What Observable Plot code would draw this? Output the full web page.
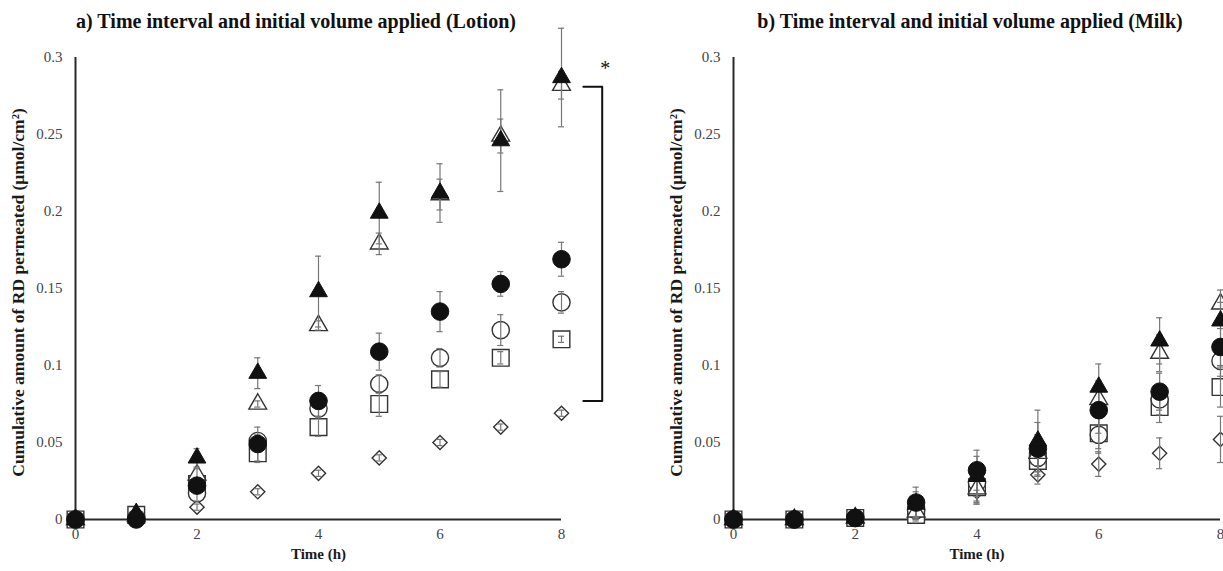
<!DOCTYPE html>
<html><head><meta charset="utf-8">
<script src="https://cdn.jsdelivr.net/npm/d3@7"></script>
<script src="https://cdn.jsdelivr.net/npm/@observablehq/plot@0.6"></script>
<style>
html,body{margin:0;padding:0;background:#fff;overflow:hidden;width:1223px;height:571px;}
#root{position:relative;width:1223px;height:571px;overflow:hidden;}
.title{position:absolute;top:10px;font-family:"Liberation Serif",serif;font-weight:bold;font-size:20px;color:#111;white-space:nowrap;transform:translateX(-50%);}
.panel{position:absolute;top:35px;}
</style></head><body><div id="root"></div>
<script>
// ---------- data ----------
const times = [0, 1, 2, 3, 4, 5, 6, 7, 8];
const xTicks = [0, 2, 4, 6, 8];
const yTicks = [0, 0.05, 0.1, 0.15, 0.2, 0.25, 0.3];
const yTickLabels = ["0", "0.05", "0.1", "0.15", "0.2", "0.25", "0.3"];
const titleA = "a) Time interval and initial volume applied (Lotion)";
const titleB = "b) Time interval and initial volume applied (Milk)";
const xLabel = "Time (h)";
const yLabel = "Cumulative amount of RD permeated (μmol/cm²)";
const seriesNames = ["openDiamond", "openSquare", "openCircle", "openTriangle", "filledCircle", "filledTriangle"];

// Lotion (panel a)
const lotionFilledTriangle    = [0, 0.004, 0.040, 0.095, 0.148, 0.199, 0.212, 0.246, 0.287];
const lotionFilledTriangleErr = [0, 0.002, 0.006, 0.010, 0.023, 0.020, 0.019, 0.033, 0.032];
const lotionOpenTriangle      = [0, 0.002, 0.029, 0.075, 0.126, 0.179, 0.211, 0.249, 0.282];
const lotionOpenTriangleErr   = [0, 0.001, 0.004, 0.002, 0.003, 0.007, 0.010, 0.011, 0.009];
const lotionFilledCircle      = [0, 0.000, 0.022, 0.049, 0.077, 0.109, 0.135, 0.153, 0.169];
const lotionFilledCircleErr   = [0, 0.001, 0.004, 0.011, 0.010, 0.012, 0.013, 0.008, 0.011];
const lotionOpenCircle        = [0, 0.001, 0.017, 0.051, 0.072, 0.088, 0.105, 0.123, 0.141];
const lotionOpenCircleErr     = [0, 0.001, 0.005, 0.004, 0.005, 0.006, 0.006, 0.010, 0.007];
const lotionOpenSquare        = [0, 0.003, 0.023, 0.043, 0.060, 0.075, 0.091, 0.105, 0.117];
const lotionOpenSquareErr     = [0, 0.001, 0.003, 0.006, 0.006, 0.008, 0.005, 0.004, 0.002];
const lotionOpenDiamond       = [0, 0.001, 0.008, 0.018, 0.030, 0.040, 0.050, 0.060, 0.069];
const lotionOpenDiamondErr    = [0, 0.001, 0.002, 0.002, 0.002, 0.002, 0.002, 0.002, 0.002];

// Milk (panel b)
const milkFilledTriangle    = [0, 0, 0.001, 0.010, 0.028, 0.051, 0.086, 0.116, 0.129];
const milkFilledTriangleErr = [0, 0, 0.001, 0.008, 0.013, 0.020, 0.015, 0.015, 0.012];
const milkOpenTriangle      = [0, 0, 0.001, 0.005, 0.020, 0.043, 0.078, 0.108, 0.140];
const milkOpenTriangleErr   = [0, 0, 0.001, 0.005, 0.010, 0.012, 0.012, 0.012, 0.009];
const milkFilledCircle      = [0, 0, 0.001, 0.011, 0.032, 0.046, 0.071, 0.083, 0.112];
const milkFilledCircleErr   = [0, 0, 0.001, 0.010, 0.013, 0.017, 0.015, 0.012, 0.012];
const milkOpenCircle        = [0, 0, 0.001, 0.006, 0.024, 0.040, 0.055, 0.078, 0.103];
const milkOpenCircleErr     = [0, 0, 0.001, 0.006, 0.012, 0.012, 0.012, 0.010, 0.010];
const milkOpenSquare        = [0, 0, 0.001, 0.003, 0.021, 0.038, 0.056, 0.073, 0.086];
const milkOpenSquareErr     = [0, 0, 0.001, 0.004, 0.010, 0.010, 0.010, 0.010, 0.013];
const milkOpenDiamond       = [0, 0, 0.001, 0.005, 0.018, 0.029, 0.036, 0.043, 0.052];
const milkOpenDiamondErr    = [0, 0, 0.001, 0.004, 0.008, 0.006, 0.008, 0.010, 0.015];

// significance bracket (panel a), in data units
const bracketX = [8.36, 8.67, 8.67, 8.36];
const bracketY = [0.281, 0.281, 0.077, 0.077];
const starX = [8.72];
const starY = [0.293];
const starText = ["*"];

// ---------- styles ----------
const styleOf = {
  filledTriangle: {symbol: "triangle", r: 6.6, fill: "#111", stroke: "#111", strokeWidth: 1},
  openTriangle:   {symbol: "triangle", r: 6.6, fill: "#fff", stroke: "#333", strokeWidth: 1.4},
  filledCircle:   {symbol: "circle",   r: 8.8, fill: "#111", stroke: "#111", strokeWidth: 1},
  openCircle:     {symbol: "circle",   r: 8.6, fill: "#fff", stroke: "#333", strokeWidth: 1.4},
  openSquare:     {symbol: "square",   r: 9.4, fill: "#fff", stroke: "#333", strokeWidth: 1.4},
  openDiamond:    {symbol: "diamond2", r: 6.4, fill: "#fff", stroke: "#333", strokeWidth: 1.4}
};

function buildRows(vals, errs) {
  const rows = [];
  for (const s of seriesNames) {
    const v = vals[s], e = errs[s];
    times.forEach((t, i) => rows.push({series: s, t, v: v[i], e: e[i]}));
  }
  return rows;
}

function panel(rows, extras, svgWidth, marginLeft, marginRight) {
  const openS = seriesNames.filter(s => s.startsWith("open"));
  const filledS = seriesNames.filter(s => s.startsWith("filled"));
  const errRows = rows.filter(d => d.e > 0);
  const capW = 0.05;
  const marks = [
    Plot.ruleY([0], {stroke: "#2a2a2a", strokeWidth: 2}),
    Plot.ruleX([0], {y1: 0, y2: 0.3, stroke: "#2a2a2a", strokeWidth: 2}),
    Plot.axisX(xTicks, {tickSize: 0, tickPadding: 9, label: null, fontSize: 15, fill: "#444", tickFormat: d => String(d)}),
    Plot.axisY(yTicks, {tickSize: 0, tickPadding: 13, label: null, fontSize: 15, fill: "#444", tickFormat: d => yTickLabels[yTicks.indexOf(d)]}),
    Plot.text([xLabel], {text: d => d, frameAnchor: "bottom", dy: 39, fontWeight: "bold", fontSize: 15, fill: "#1a1a1a"}),
    Plot.text([yLabel], {text: d => d, frameAnchor: "left", textAnchor: "middle", dx: -57, dy: 4, rotate: -90, fontWeight: "bold", fontSize: 17.5, fill: "#1a1a1a"}),
    ...openS.map(s => Plot.dot(rows.filter(d => d.series === s), {x: "t", y: "v", ...styleOf[s]})),
    Plot.ruleX(errRows, {x: "t", y1: d => d.v - d.e, y2: d => d.v + d.e, stroke: "#777", strokeWidth: 1.2}),
    Plot.ruleY(errRows, {y: d => d.v + d.e, x1: d => d.t - capW, x2: d => d.t + capW, stroke: "#777", strokeWidth: 1.2}),
    Plot.ruleY(errRows, {y: d => d.v - d.e, x1: d => d.t - capW, x2: d => d.t + capW, stroke: "#777", strokeWidth: 1.2}),
    ...filledS.map(s => Plot.dot(rows.filter(d => d.series === s), {x: "t", y: "v", ...styleOf[s]})),
    ...extras
  ];
  return Plot.plot({
    width: svgWidth, height: 534,
    marginLeft, marginRight, marginTop: 22, marginBottom: 50,
    x: {domain: [0, 8]},
    y: {domain: [0, 0.3]},
    style: {fontFamily: "Liberation Serif, serif", fontSize: "15px", background: "transparent", overflow: "visible"},
    marks
  });
}

const rowsA = buildRows(
  {filledTriangle: lotionFilledTriangle, openTriangle: lotionOpenTriangle, filledCircle: lotionFilledCircle,
   openCircle: lotionOpenCircle, openSquare: lotionOpenSquare, openDiamond: lotionOpenDiamond},
  {filledTriangle: lotionFilledTriangleErr, openTriangle: lotionOpenTriangleErr, filledCircle: lotionFilledCircleErr,
   openCircle: lotionOpenCircleErr, openSquare: lotionOpenSquareErr, openDiamond: lotionOpenDiamondErr});
const rowsB = buildRows(
  {filledTriangle: milkFilledTriangle, openTriangle: milkOpenTriangle, filledCircle: milkFilledCircle,
   openCircle: milkOpenCircle, openSquare: milkOpenSquare, openDiamond: milkOpenDiamond},
  {filledTriangle: milkFilledTriangleErr, openTriangle: milkOpenTriangleErr, filledCircle: milkFilledCircleErr,
   openCircle: milkOpenCircleErr, openSquare: milkOpenSquareErr, openDiamond: milkOpenDiamondErr});

const bracketRows = bracketX.map((x, i) => ({x, y: bracketY[i]}));
const extrasA = [
  Plot.line(bracketRows, {x: "x", y: "y", stroke: "#111", strokeWidth: 2, curve: "linear"}),
  Plot.text(starText, {x: (d, i) => starX[i], y: (d, i) => starY[i], text: d => d, fontSize: 20, fill: "#111"})
];

const root = document.getElementById("root");
const svgA = panel(rowsA, extrasA, 660, 75, 99);
svgA.classList.add("panel"); svgA.style.left = "0px";
const svgB = panel(rowsB, [], 600, 73, 40);
svgB.classList.add("panel"); svgB.style.left = "660px";
root.appendChild(svgA);
root.appendChild(svgB);

const tA = document.createElement("div");
tA.className = "title"; tA.textContent = titleA; tA.style.left = "296px";
const tB = document.createElement("div");
tB.className = "title"; tB.textContent = titleB; tB.style.left = "970px";
root.appendChild(tA); root.appendChild(tB);
</script>
</body></html>
